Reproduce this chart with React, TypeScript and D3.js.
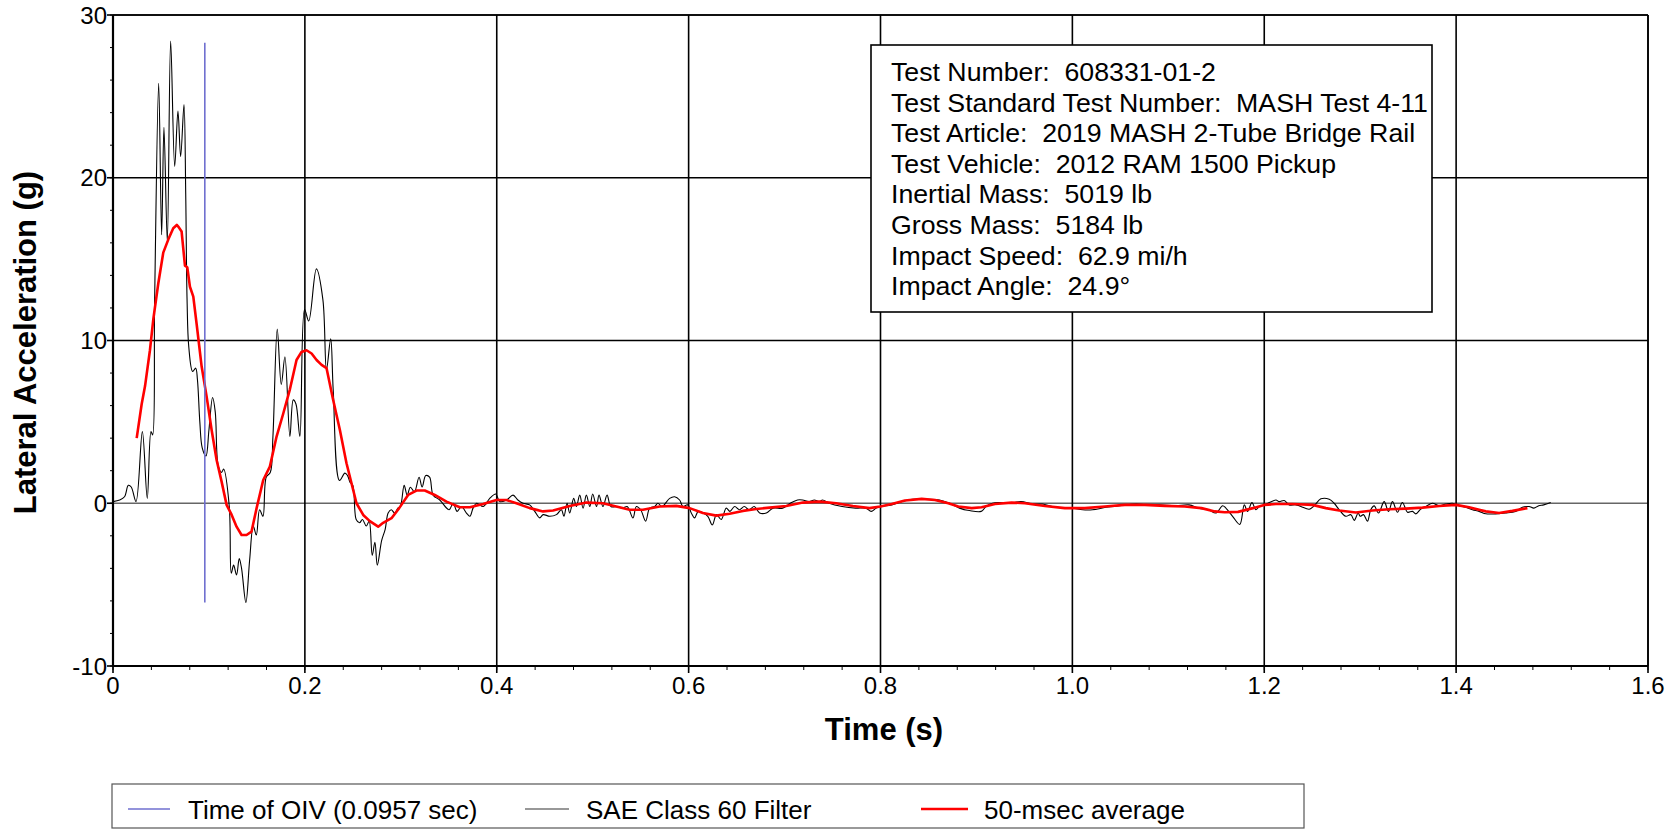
import React from "react";
import * as d3 from "d3";

// ---- data ----
const xTicks = [0, 0.2, 0.4, 0.6, 0.8, 1.0, 1.2, 1.4, 1.6];
const xTickLabels = ["0", "0.2", "0.4", "0.6", "0.8", "1.0", "1.2", "1.4", "1.6"];
const yTicks = [-10, 0, 10, 20, 30];
const yTickLabels = ["-10", "0", "10", "20", "30"];

const oivTime = 0.0957;
const oivRange = [-6.1, 28.3];

const infoLines = [
  "Test Number:  608331-01-2",
  "Test Standard Test Number:  MASH Test 4-11",
  "Test Article:  2019 MASH 2-Tube Bridge Rail",
  "Test Vehicle:  2012 RAM 1500 Pickup",
  "Inertial Mass:  5019 lb",
  "Gross Mass:  5184 lb",
  "Impact Speed:  62.9 mi/h",
  "Impact Angle:  24.9°",
];

const legendLabels = ["Time of OIV (0.0957 sec)", "SAE Class 60 Filter", "50-msec average"];

// SAE Class 60 filtered signal [time s, accel g]
const filterSeries: [number, number][] = [
  [0.0, 0.1], [0.007, 0.2], [0.012, 0.4], [0.016, 1.1], [0.019, 1.0], [0.024, 0.1],
  [0.0306, 4.4], [0.0357, 0.3], [0.0396, 4.4], [0.0413, 4.2], [0.0434, 12.5],
  [0.0476, 25.8], [0.0507, 16.5], [0.0531, 23.1], [0.0566, 16.1], [0.0601, 28.4],
  [0.0643, 20.7], [0.0677, 24.1], [0.0705, 21.3], [0.074, 24.5], [0.0758, 19.0],
  [0.0772, 12.5], [0.079, 9.6], [0.083, 8.1], [0.0862, 8.3], [0.088, 7.6],
  [0.0905, 5.0], [0.093, 3.4], [0.0969, 2.9], [0.1, 4.5], [0.1038, 6.5],
  [0.1066, 5.6], [0.1097, 2.3], [0.1132, 1.9], [0.1153, 2.1], [0.1212, -0.2],
  [0.1233, -4.3], [0.1257, -3.8], [0.1288, -4.4], [0.1316, -3.4], [0.134, -4.0],
  [0.1385, -6.1], [0.1424, -3.5], [0.1462, -1.4], [0.1494, -1.95], [0.1528, -0.4],
  [0.1563, -0.8], [0.1597, 1.6], [0.164, 1.9], [0.1667, 4.1], [0.1712, 10.7],
  [0.1754, 7.3], [0.1792, 9.0], [0.1844, 4.1], [0.1879, 6.35], [0.1907, 6.1],
  [0.1948, 4.1], [0.1997, 11.9], [0.204, 11.2], [0.212, 14.4], [0.2188, 12.5],
  [0.2225, 8.2], [0.2269, 10.1], [0.2295, 7.0], [0.2361, 1.4], [0.2417, 1.85],
  [0.2445, 1.7], [0.247, 1.3], [0.25, 1.1], [0.2535, -1.0], [0.257, -1.2],
  [0.26, -1.0], [0.264, -1.4], [0.267, -1.1], [0.2702, -3.2], [0.273, -2.4],
  [0.2755, -3.8], [0.28, -2.3], [0.2837, -1.6], [0.2868, -0.6], [0.29, -0.4],
  [0.2936, -0.6], [0.297, -0.3], [0.2995, -0.2], [0.3035, 1.1], [0.3066, 0.5],
  [0.31, 0.98], [0.3142, 0.7], [0.319, 1.6], [0.3222, 1.0], [0.326, 1.7],
  [0.33, 1.6], [0.3337, 0.5], [0.3406, 0.2], [0.3503, -0.4], [0.3545, 0.0],
  [0.3587, -0.5], [0.3632, -0.2], [0.3684, -0.6], [0.372, -0.8], [0.3753, -0.3],
  [0.379, 0.0], [0.386, -0.2], [0.3927, 0.3], [0.399, 0.57], [0.4031, 0.1],
  [0.4101, 0.2], [0.417, 0.5], [0.422, 0.2], [0.4274, 0.0], [0.4343, -0.1],
  [0.4396, -0.5], [0.4448, -0.9], [0.4483, -0.7], [0.4552, -0.8], [0.4622, -0.7],
  [0.4674, -0.4], [0.47, -0.8], [0.4733, 0.0], [0.476, -0.6], [0.4802, 0.3],
  [0.483, -0.2], [0.4865, 0.5], [0.49, -0.3], [0.4934, 0.5], [0.497, -0.2],
  [0.5, 0.57], [0.504, -0.2], [0.5066, 0.5], [0.5107, -0.2], [0.515, 0.5],
  [0.519, -0.2], [0.526, -0.2], [0.531, -0.3], [0.536, -0.2], [0.542, -0.9],
  [0.5455, -0.2], [0.55, -0.4], [0.5552, -1.1], [0.5594, -0.3], [0.5646, -0.2],
  [0.568, 0.0], [0.5722, -0.2], [0.5802, 0.3], [0.5854, 0.4], [0.5906, 0.2],
  [0.594, -0.2], [0.599, -0.1], [0.6028, -0.6], [0.6062, -0.9], [0.61, -0.5],
  [0.615, -0.6], [0.62, -0.8], [0.6247, -1.33], [0.629, -0.7], [0.634, -1.0],
  [0.6392, -0.3], [0.643, -0.5], [0.648, -0.2], [0.653, -0.4], [0.658, -0.2],
  [0.663, -0.4], [0.6684, -0.2], [0.674, -0.6], [0.681, -0.6], [0.688, -0.3],
  [0.698, -0.3], [0.706, 0.0], [0.7135, 0.2], [0.7188, 0.2], [0.7257, 0.1],
  [0.731, 0.2], [0.736, 0.1], [0.7396, 0.2], [0.7465, 0.0], [0.76, -0.2],
  [0.774, -0.3], [0.7847, -0.3], [0.7903, -0.5], [0.7955, -0.3], [0.8, -0.2],
  [0.8117, -0.1], [0.822, 0.1], [0.8337, 0.25], [0.8476, 0.25], [0.8615, 0.2],
  [0.872, 0.0], [0.8823, -0.3], [0.8927, -0.45], [0.9049, -0.5], [0.91, -0.2],
  [0.9167, 0.0], [0.9236, 0.04], [0.934, 0.0], [0.9465, 0.1], [0.9583, -0.05],
  [0.9688, -0.05], [0.979, -0.2], [0.993, -0.3], [1.0003, -0.3], [1.0107, -0.4],
  [1.021, -0.4], [1.035, -0.25], [1.049, -0.15], [1.0663, -0.05], [1.08, -0.1],
  [1.0906, -0.1], [1.108, -0.15], [1.1215, -0.1], [1.132, -0.3], [1.142, -0.4],
  [1.1497, -0.6], [1.1566, -0.15], [1.16, -0.3], [1.167, -0.8], [1.1745, -1.3],
  [1.1792, -0.1], [1.1826, -0.5], [1.1872, 0.04], [1.1913, -0.4], [1.1948, -0.2],
  [1.2, -0.1], [1.2052, 0.04], [1.2122, 0.2], [1.2156, 0.1], [1.2208, 0.17],
  [1.226, -0.1], [1.233, -0.1], [1.2382, -0.2], [1.2469, -0.37], [1.2521, -0.15],
  [1.259, 0.27], [1.2677, 0.25], [1.2729, 0.0], [1.2781, -0.4], [1.285, -0.8],
  [1.2903, -0.7], [1.2938, -1.05], [1.2979, -0.6], [1.3, -0.8], [1.3035, -0.7],
  [1.3076, -1.1], [1.311, -0.4], [1.3146, -0.16], [1.3191, -0.6], [1.325, 0.1],
  [1.3295, -0.5], [1.3337, 0.1], [1.3389, -0.55], [1.344, 0.05], [1.3493, -0.55],
  [1.3545, -0.5], [1.358, -0.65], [1.3632, -0.35], [1.3684, -0.2], [1.3753, 0.0],
  [1.3823, -0.15], [1.3893, -0.05], [1.3962, 0.0], [1.4031, -0.15], [1.41, -0.25],
  [1.417, -0.4], [1.424, -0.5], [1.431, -0.65], [1.4413, -0.65], [1.4517, -0.6],
  [1.462, -0.5], [1.4691, -0.25], [1.476, -0.2], [1.481, -0.3], [1.4861, -0.15],
  [1.4913, -0.1], [1.4986, 0.04],
];

// 50-msec moving average [time s, accel g]
const averageSeries: [number, number][] = [
  [0.0247, 4.0], [0.0299, 6.1], [0.0334, 7.2], [0.0385, 9.4], [0.042, 11.3],
  [0.0472, 13.5], [0.0524, 15.4], [0.0576, 16.2], [0.0628, 16.9], [0.0665, 17.1],
  [0.068, 17.0], [0.0715, 16.7], [0.075, 14.6], [0.0774, 14.5], [0.0802, 13.3],
  [0.0837, 12.7], [0.0872, 11.0], [0.0924, 8.4], [0.0976, 6.55], [0.1028, 4.5],
  [0.108, 2.66], [0.1132, 1.33], [0.1184, -0.1], [0.1236, -0.7], [0.1288, -1.44],
  [0.134, -1.95], [0.1392, -1.95], [0.1444, -1.74], [0.1497, -0.3], [0.1566, 1.43],
  [0.1635, 2.25], [0.1705, 4.1], [0.1774, 5.5], [0.1844, 7.0], [0.1913, 8.8],
  [0.1965, 9.3], [0.2017, 9.4], [0.207, 9.2], [0.2122, 8.8], [0.2174, 8.5],
  [0.2226, 8.3], [0.2295, 6.35], [0.2365, 4.5], [0.2434, 2.46], [0.2486, 1.23],
  [0.2538, 0.0], [0.2608, -0.72], [0.2677, -1.1], [0.2764, -1.44], [0.2816, -1.2],
  [0.2903, -0.92], [0.2983, -0.3], [0.3076, 0.51], [0.3163, 0.78], [0.325, 0.78],
  [0.3354, 0.51], [0.3476, 0.1], [0.3615, -0.25], [0.372, -0.25], [0.3858, -0.05],
  [0.3997, 0.2], [0.4101, 0.2], [0.4205, 0.0], [0.4344, -0.3], [0.4483, -0.5],
  [0.4587, -0.45], [0.476, -0.17], [0.4934, 0.04], [0.5107, 0.0], [0.5246, -0.2],
  [0.5385, -0.4], [0.5524, -0.4], [0.5698, -0.2], [0.5871, -0.16], [0.601, -0.3],
  [0.6149, -0.6], [0.6288, -0.76], [0.6427, -0.65], [0.6566, -0.47], [0.6705, -0.35],
  [0.6844, -0.27], [0.7017, -0.17], [0.719, 0.04], [0.7365, 0.1], [0.7538, 0.0],
  [0.7712, -0.17], [0.7885, -0.3], [0.8, -0.2], [0.8117, -0.05], [0.8255, 0.17],
  [0.8429, 0.27], [0.8568, 0.2], [0.8707, 0.0], [0.8811, -0.2], [0.895, -0.3],
  [0.9054, -0.25], [0.9193, -0.05], [0.9366, 0.04], [0.9505, 0.0], [0.9714, -0.17],
  [0.9922, -0.3], [1.013, -0.3], [1.0339, -0.2], [1.0547, -0.1], [1.0755, -0.1],
  [1.0964, -0.16], [1.1172, -0.2], [1.1345, -0.3], [1.1484, -0.5], [1.1588, -0.55],
  [1.1727, -0.53], [1.1882, -0.3], [1.2, -0.1], [1.2122, -0.05], [1.2295, -0.05],
  [1.2503, -0.1], [1.2642, -0.3], [1.2781, -0.45], [1.2955, -0.57], [1.3128, -0.45],
  [1.3302, -0.37], [1.3476, -0.33], [1.3649, -0.27], [1.3823, -0.17], [1.3997, -0.1],
  [1.4135, -0.25], [1.4309, -0.5], [1.4448, -0.6], [1.4587, -0.47], [1.4743, -0.3],
];

// ---- layout ----
const W = 1679;
const H = 830;
const PL = 113, PR = 1648, PT = 15, PB = 666;
const FONT = "'Liberation Sans', Arial, Helvetica, sans-serif";
const OIV_COLOR = "#6f6fcf";

export default function App() {
  const x = d3.scaleLinear().domain([0, 1.6]).range([PL, PR]);
  const y = d3.scaleLinear().domain([-10, 30]).range([PB, PT]);

  const blackLine = d3
    .line<[number, number]>()
    .x((d) => x(d[0]))
    .y((d) => y(d[1]))
    .curve(d3.curveCatmullRom.alpha(0.5));
  const redLine = d3
    .line<[number, number]>()
    .x((d) => x(d[0]))
    .y((d) => y(d[1]))
    .curve(d3.curveLinear);

  const xMinor = d3.range(0, 1.6001, 0.04);
  const yMinor = d3.range(-10, 30.001, 2);

  const box = { x0: 871, y0: 45, x1: 1432, y1: 312 };

  const legendItems = [
    { color: OIV_COLOR, x1: 128, x2: 170, tx: 188, w: 1.5 },
    { color: "#333", x1: 525, x2: 569, tx: 586, w: 1.2 },
    { color: "#ff0000", x1: 921, x2: 968, tx: 984, w: 2.5 },
  ];

  return (
    <svg
      width={W}
      height={H}
      style={{ position: "absolute", left: 0, top: 0, background: "#fff" }}
      fontFamily={FONT}
    >
      <rect x={0} y={0} width={W} height={H} fill="#fff" />
      {/* horizontal grid */}
      {yTicks.map((v) =>
        v === 0 ? (
          <line key={"hg" + v} x1={PL} x2={PR} y1={y(v)} y2={y(v)} stroke="#666" strokeWidth={1.3} />
        ) : (
          <line key={"hg" + v} x1={PL} x2={PR} y1={y(v)} y2={y(v)} stroke="#000" strokeWidth={1.4} />
        )
      )}
      {/* vertical grid */}
      {xTicks.map((v) => (
        <line key={"vg" + v} x1={x(v)} x2={x(v)} y1={PT} y2={PB} stroke="#000" strokeWidth={1.6} />
      ))}
      {/* frame */}
      <line x1={PL} x2={PR} y1={PT} y2={PT} stroke="#000" strokeWidth={1.6} />
      <line x1={PR} x2={PR} y1={PT} y2={PB} stroke="#000" strokeWidth={1.6} />
      <line x1={PL} x2={PL} y1={PT} y2={PB + 1} stroke="#000" strokeWidth={2.2} />
      <line x1={PL - 1} x2={PR} y1={PB} y2={PB} stroke="#000" strokeWidth={2.2} />

      {/* ticks */}
      {xMinor.map((v, i) => (
        <line key={"xm" + i} x1={x(v)} x2={x(v)} y1={PB} y2={PB + 4} stroke="#000" strokeWidth={1} />
      ))}
      {xTicks.map((v) => (
        <line key={"xM" + v} x1={x(v)} x2={x(v)} y1={PB} y2={PB + 7} stroke="#000" strokeWidth={1.6} />
      ))}
      {yMinor.map((v, i) => (
        <line key={"ym" + i} x1={PL - 3} x2={PL} y1={y(v)} y2={y(v)} stroke="#000" strokeWidth={1} />
      ))}
      {yTicks.map((v) => (
        <line key={"yM" + v} x1={PL - 6} x2={PL} y1={y(v)} y2={y(v)} stroke="#000" strokeWidth={1.6} />
      ))}

      {/* tick labels */}
      {xTicks.map((v, i) => (
        <text key={"xl" + v} x={x(v)} y={694} fontSize={24} textAnchor="middle" fill="#000">
          {xTickLabels[i]}
        </text>
      ))}
      {yTicks.map((v, i) => (
        <text key={"yl" + v} x={107} y={y(v) + 8.5} fontSize={24} textAnchor="end" fill="#000">
          {yTickLabels[i]}
        </text>
      ))}

      {/* axis titles */}
      <text x={884} y={740} fontSize={31} fontWeight="bold" textAnchor="middle" fill="#000">
        Time (s)
      </text>
      <text
        transform={`translate(36, ${(PT + PB) / 2 + 2}) rotate(-90)`}
        fontSize={31}
        fontWeight="bold"
        textAnchor="middle"
        fill="#000"
      >
        Lateral Acceleration (g)
      </text>

      {/* data */}
      <path d={blackLine(filterSeries) || ""} fill="none" stroke="#000" strokeWidth={1.1} />
      <path d={redLine(averageSeries) || ""} fill="none" stroke="#ff0000" strokeWidth={2.6} strokeLinejoin="round" />
      <line
        x1={x(oivTime)}
        x2={x(oivTime)}
        y1={y(oivRange[1])}
        y2={y(oivRange[0])}
        stroke={OIV_COLOR}
        strokeWidth={1.6}
      />

      {/* info box */}
      <rect x={box.x0} y={box.y0} width={box.x1 - box.x0} height={box.y1 - box.y0} fill="#fff" stroke="#000" strokeWidth={1.6} />
      {infoLines.map((t, i) => (
        <text
          key={"info" + i}
          x={891}
          y={81 + i * 30.6}
          fontSize={26.7}
          fill="#000"
          xmlSpace="preserve"
          style={{ whiteSpace: "pre" }}
        >
          {t}
        </text>
      ))}

      {/* legend */}
      <rect x={112} y={784} width={1192} height={44} fill="#fff" stroke="#555" strokeWidth={1.2} />
      {legendItems.map((it, i) => (
        <g key={"lg" + i}>
          <line x1={it.x1} x2={it.x2} y1={809} y2={809} stroke={it.color} strokeWidth={it.w} />
          <text x={it.tx} y={819} fontSize={26} fill="#000">
            {legendLabels[i]}
          </text>
        </g>
      ))}
    </svg>
  );
}
